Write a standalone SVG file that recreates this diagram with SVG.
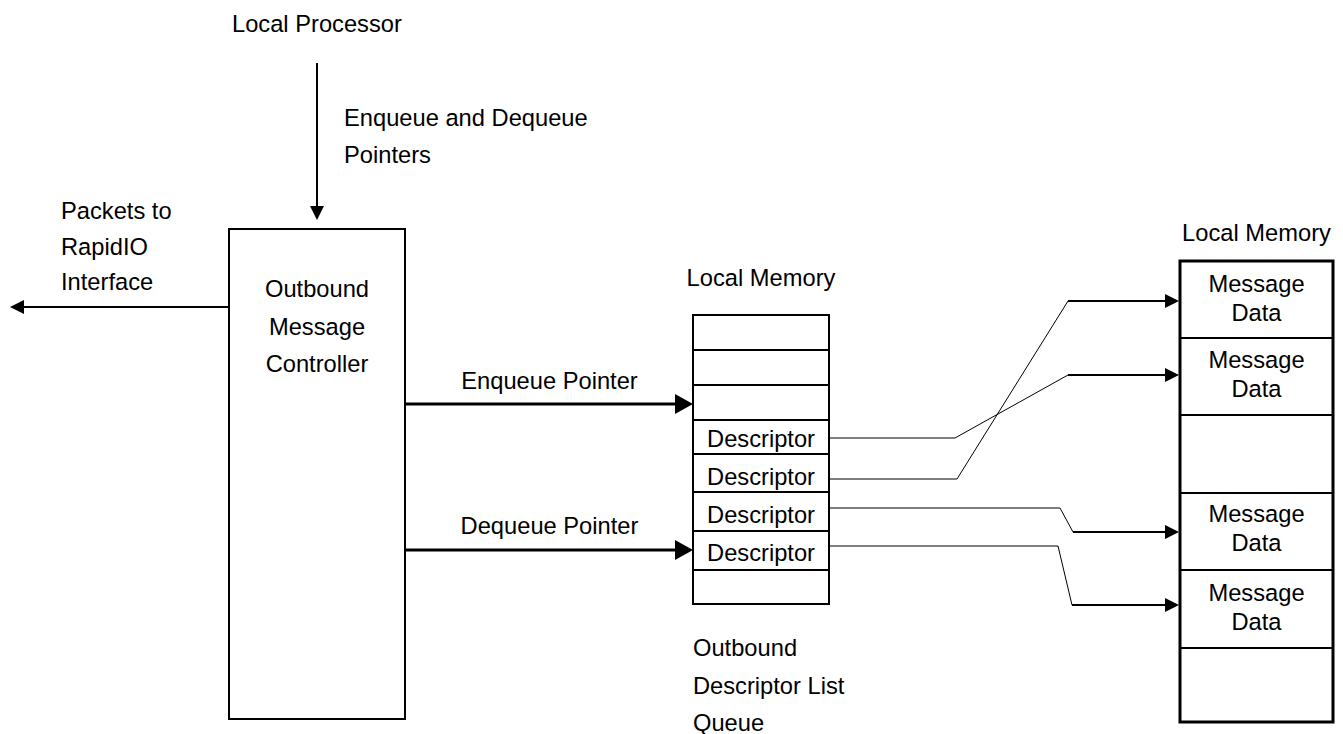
<svg xmlns="http://www.w3.org/2000/svg" width="1343" height="734" viewBox="0 0 1343 734">
  <style>
    text { font-family: "Liberation Sans", Arial, sans-serif; font-size: 23.7px; fill: #000; }
    .c { text-anchor: middle; }
    .box { fill: #fff; stroke: #000; stroke-width: 2; }
    .thick { fill: none; stroke: #000; stroke-width: 3; }
    .div { stroke: #000; stroke-width: 2; }
    .thin { fill: none; stroke: #000; stroke-width: 1; }
    .ln2 { fill: none; stroke: #000; stroke-width: 2; }
    .ln3 { fill: none; stroke: #000; stroke-width: 3; }
  </style>
  <defs>
    <marker id="ah" markerUnits="userSpaceOnUse" markerWidth="14" markerHeight="14" refX="0" refY="7" orient="auto">
      <path d="M0,0 L14,7 L0,14 z" fill="#000"/>
    </marker>
    <marker id="ahBig" markerUnits="userSpaceOnUse" markerWidth="18" markerHeight="20" refX="0" refY="10" orient="auto">
      <path d="M0,0 L18,10 L0,20 z" fill="#000"/>
    </marker>
  </defs>

  <g id="local-processor">
    <text x="232" y="32">Local Processor</text>
  </g>

  <g id="controller">
    <rect class="box" x="229" y="229" width="176" height="490"/>
    <text class="c" x="317" y="297">Outbound</text>
    <text class="c" x="317" y="335">Message</text>
    <text class="c" x="317" y="372">Controller</text>
  </g>

  <g id="rapidio-label">
    <text x="61" y="219">Packets to</text>
    <text x="61" y="255">RapidIO</text>
    <text x="61" y="290">Interface</text>
  </g>

  <g id="descriptor-queue">
    <text class="c" x="761" y="286">Local Memory</text>
    <rect class="box" x="693" y="315" width="136" height="289"/>
    <line class="div" x1="693" y1="350" x2="829" y2="350"/>
    <line class="div" x1="693" y1="385" x2="829" y2="385"/>
    <line class="div" x1="693" y1="420" x2="829" y2="420"/>
    <line class="div" x1="693" y1="454" x2="829" y2="454"/>
    <line class="div" x1="693" y1="492" x2="829" y2="492"/>
    <line class="div" x1="693" y1="531" x2="829" y2="531"/>
    <line class="div" x1="693" y1="570" x2="829" y2="570"/>
    <text class="c" x="761" y="447">Descriptor</text>
    <text class="c" x="761" y="485">Descriptor</text>
    <text class="c" x="761" y="523">Descriptor</text>
    <text class="c" x="761" y="561">Descriptor</text>
    <text x="693" y="656">Outbound</text>
    <text x="693" y="694">Descriptor List</text>
    <text x="693" y="731">Queue</text>
  </g>

  <g id="message-memory">
    <text class="c" x="1256.5" y="241">Local Memory</text>
    <rect class="box" x="1180" y="261" width="153" height="461" style="stroke-width:3"/>
    <line class="div" x1="1180" y1="338" x2="1333" y2="338"/>
    <line class="div" x1="1180" y1="415" x2="1333" y2="415"/>
    <line class="div" x1="1180" y1="493" x2="1333" y2="493"/>
    <line class="div" x1="1180" y1="570" x2="1333" y2="570"/>
    <line class="div" x1="1180" y1="648" x2="1333" y2="648"/>
    <text class="c" x="1256.5" y="292">Message</text>
    <text class="c" x="1256.5" y="321">Data</text>
    <text class="c" x="1256.5" y="368">Message</text>
    <text class="c" x="1256.5" y="397">Data</text>
    <text class="c" x="1256.5" y="522">Message</text>
    <text class="c" x="1256.5" y="551">Data</text>
    <text class="c" x="1256.5" y="601">Message</text>
    <text class="c" x="1256.5" y="630">Data</text>
  </g>

  <g id="connectors">
    <line class="ln2" x1="317" y1="63" x2="317" y2="206" marker-end="url(#ah)"/>
    <text x="344" y="126">Enqueue and Dequeue</text>
    <text x="344" y="163">Pointers</text>
    <line class="ln2" x1="229" y1="307" x2="24" y2="307" marker-end="url(#ah)"/>
    <line class="ln3" x1="405" y1="404" x2="675" y2="404" marker-end="url(#ahBig)"/>
    <text class="c" x="549.5" y="389">Enqueue Pointer</text>
    <line class="ln3" x1="405" y1="550" x2="675" y2="550" marker-end="url(#ahBig)"/>
    <text class="c" x="549.5" y="534">Dequeue Pointer</text>

    <polyline class="thin" points="829,438 955,438 1068,375"/>
    <line class="ln2" x1="1068" y1="375" x2="1165" y2="375" marker-end="url(#ah)"/>
    <polyline class="thin" points="829,479 957,479 1068,301"/>
    <line class="ln2" x1="1068" y1="301" x2="1165" y2="301" marker-end="url(#ah)"/>
    <polyline class="thin" points="829,508 1060,508 1073,532"/>
    <line class="ln2" x1="1073" y1="532" x2="1165" y2="532" marker-end="url(#ah)"/>
    <polyline class="thin" points="829,546 1058,546 1072,605"/>
    <line class="ln2" x1="1072" y1="605" x2="1165" y2="605" marker-end="url(#ah)"/>
  </g>
</svg>
